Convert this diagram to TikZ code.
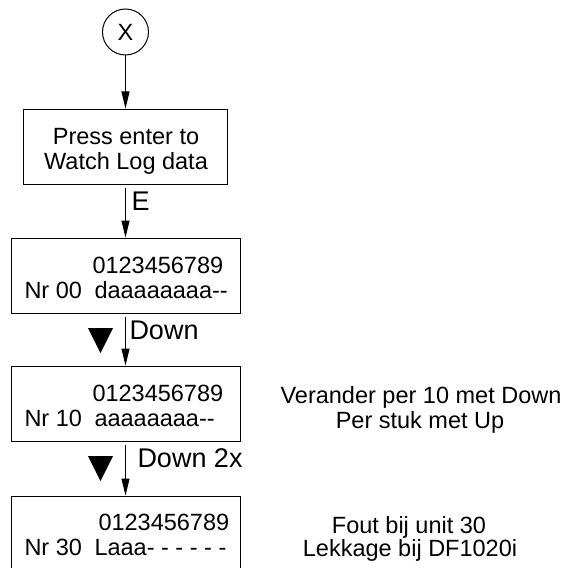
\documentclass[tikz,border=0pt]{standalone}
\usepackage{fontspec}
\setmainfont{Liberation Sans}[Ligatures=NoCommon]
\usetikzlibrary{arrows.meta}
\begin{document}
\begin{tikzpicture}[x=1pt,y=-1pt,line width=1pt,
  box/.style={draw,rectangle,inner sep=0pt,minimum height=75pt},
  txt/.style={inner sep=0pt,font=\fontsize{23.5}{25}\selectfont},
  lbl/.style={inner sep=0pt,font=\fontsize{27}{29}\selectfont},
  flow/.style={-{Triangle[width=8pt,length=17pt]}},
  bigtri/.style={fill=black}]
\clip (0,0) rectangle (569,567);
\fill[white] (0,0) rectangle (569,567);
% start circle
\node[draw,circle,minimum size=46pt,inner sep=0pt,txt] (x) at (125.5,32) {X};
% boxes
\node[box,minimum width=204pt] (b1) at (125,146.5) {};
\node[box,minimum width=229pt] (b2) at (125.5,275.5) {};
\node[box,minimum width=229pt] (b3) at (125.5,403.5) {};
\node[box,minimum width=229pt,minimum height=90pt] (b4) at (125.5,541) {};
% box texts
\node[txt,anchor=base] (t1a) at (126,144) {Press enter to};
\node[txt,anchor=base] (t1b) at (126,169) {Watch Log data};
\node[txt,anchor=base west] (t2a) at (92,273) {0123456789};
\node[txt,anchor=base west] (t2b) at (24,298) {Nr 00};
\node[txt,anchor=base west] (t2c) at (94,298) {daaaaaaaa-{}-};
\node[txt,anchor=base west] (t3a) at (92,401) {0123456789};
\node[txt,anchor=base west] (t3b) at (24,426) {Nr 10};
\node[txt,anchor=base west] (t3c) at (94,426) {aaaaaaaa-{}-};
\node[txt,anchor=base west] (t4a) at (98,530) {0123456789};
\node[txt,anchor=base west] (t4b) at (24,555) {Nr 30};
\node[txt,anchor=base west] (t4c) at (94,555) {Laaa- - - - - -};
% connectors
\draw[flow] (x.south) -- (b1.north -| x.south);
\draw[flow] (b1.south -| x.south) ++(0,3) coordinate (e0) -- (b2.north -| x.south);
\draw[flow] (b2.south -| x.south) ++(0,3) coordinate (d0) -- (b3.north -| x.south);
\draw[flow] (b3.south -| x.south) ++(0,3) coordinate (dd0) -- (b4.north -| x.south);
% labels
\node[lbl,anchor=base west] (le) at (131,210) {E};
\node[lbl,anchor=base west] (ld) at (129,339) {Down};
\node[lbl,anchor=base west] (ld2) at (137,467) {Down 2x};
% big triangles
\fill[bigtri] (88,328) -- (113,328) -- (100.5,353) -- cycle;
\fill[bigtri] (88,456) -- (113,456) -- (100.5,481) -- cycle;
% side notes
\node[txt,anchor=base] (n1) at (421,403) {Verander per 10 met Down};
\node[txt,anchor=base] (n2) at (420,428) {Per stuk met Up};
\node[txt,anchor=base] (n3) at (409,533) {Fout bij unit 30};
\node[txt,anchor=base] (n4) at (410,556) {Lekkage bij DF1020i};
\end{tikzpicture}
\end{document}
